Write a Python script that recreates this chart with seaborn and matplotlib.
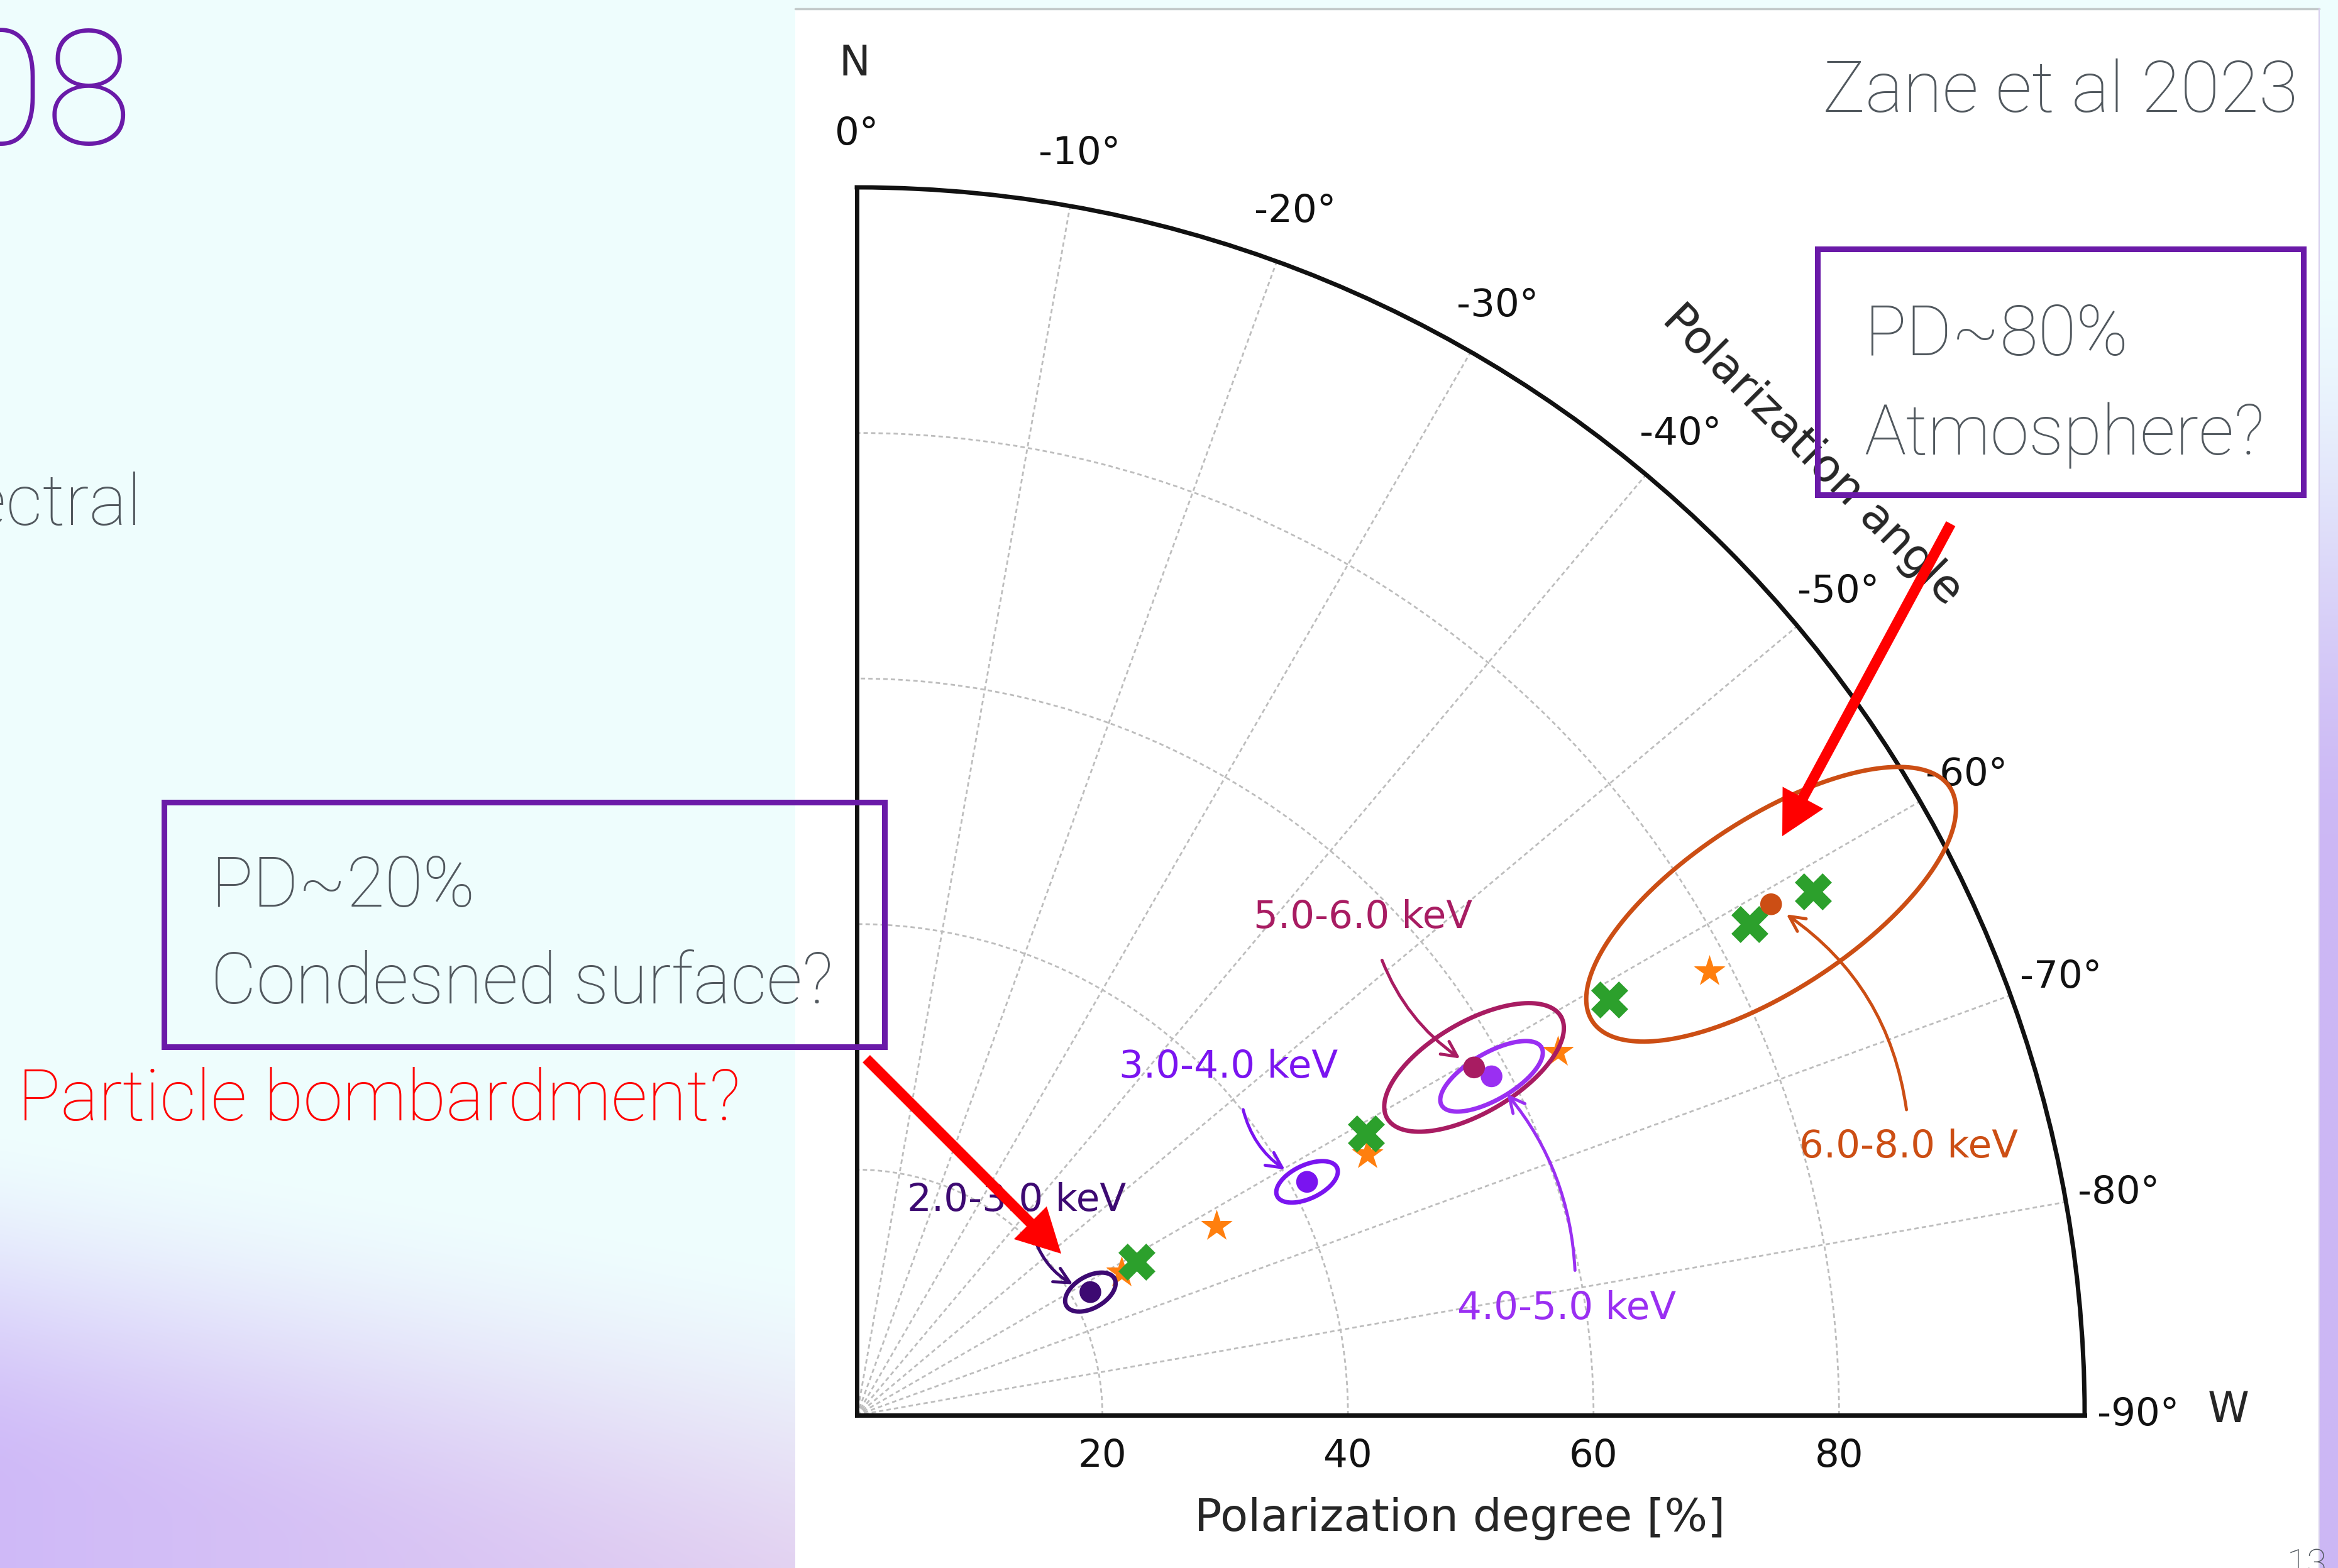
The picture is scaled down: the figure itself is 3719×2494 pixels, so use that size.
import numpy as np
import matplotlib
matplotlib.use("Agg")
import matplotlib.pyplot as plt
from matplotlib.patches import FancyArrowPatch, Rectangle
import seaborn as sns

# ---------------- data ----------------
bands = ["2.0-3.0 keV", "3.0-4.0 keV", "4.0-5.0 keV", "5.0-6.0 keV", "6.0-8.0 keV"]
band_colors = ["#3d0a72", "#7a14f0", "#9a2ff2", "#a81c62", "#cc4e14"]
band_pd = [21.5, 41.3, 58.6, 57.7, 85.3]          # polarization degree [%]
band_pa = [-62.2, -62.6, -61.9, -60.6, -60.8]     # polarization angle [deg]
# confidence contours: semi-axes in PD units, tilt from the radial direction [deg]
contour_major = [2.25, 2.7, 4.7, 8.2, 17.4]
contour_minor = [1.3, 1.36, 1.9, 3.7, 7.0]
contour_tilt = [2, -2, 2, 1, 4]

# model predictions
model_x_pd = [26.0, 47.4, 70.0, 83.0, 88.8]
model_x_pa = [-61.3, -61.05, -61.1, -61.2, -61.3]
model_star_pd = [24.5, 33.1, 46.7, 64.3, 78.3]
model_star_pa = [-61.7, -62.25, -62.9, -62.6, -62.5]

angle_ticks = [0, -10, -20, -30, -40, -50, -60, -70, -80, -90]
angle_labels = ["0°", "-10°", "-20°", "-30°", "-40°", "-50°", "-60°", "-70°", "-80°", "-90°"]
pd_ticks = [20, 40, 60, 80]
pd_tick_labels = ["20", "40", "60", "80"]

# label placement for each band (axes fraction), arrow curvature, arrow anchors
label_pos = [(0.130, 0.175), (0.3026, 0.2832), (0.5781, 0.0870), (0.4122, 0.4055), (0.8566, 0.2186)]
label_rad = [0.3, 0.3, 0.2, 0.2, 0.25]
label_relpos = [(0.56, 0.0), (0.55, 0.0), (0.54, 1.0), (0.55, 0.0), (0.5, 1.0)]
label_shrink_a = [24, 25, 20, 27, 19]
label_shrink_b = [22, 29, 27, 19, 21]

# ---------------- figure ----------------
sns.set_style("white")
plt.rcParams["font.family"] = ["DejaVu Sans"]

W, H = 3719, 2494
DPI = 100
fig = plt.figure(figsize=(W / DPI, H / DPI), dpi=DPI)


def fxy(x, y):
    return (x / W, 1 - y / H)


def smoothstep(z):
    z = np.clip(z, 0, 1)
    return z * z * (3 - 2 * z)


# slide background: pale cyan fading into lavender at the bottom
bg = fig.add_axes([0, 0, 1, 1], zorder=-10)
bg.set_axis_off()
ny, nx = 300, 450
yy, xx = np.mgrid[0:ny, 0:nx]
yf = yy / (ny - 1)
xf = np.clip(xx / (nx - 1) * W / 1265.0, 0, 1)
cyan = np.array([0.937, 0.996, 0.996])
lav_l = np.array([0.812, 0.728, 0.972])
lav_r = np.array([0.884, 0.808, 0.942])
start = 0.71 + 0.08 * xf
span = 0.24 + 0.02 * xf
t = smoothstep((yf - start) / span)
lav = lav_l[None, None, :] * (1 - xf[..., None]) + lav_r[None, None, :] * xf[..., None]
img = cyan[None, None, :] * (1 - t[..., None]) + lav * t[..., None]
bg.imshow(img, extent=[0, W, H, 0], aspect="auto", interpolation="bilinear")
# right-hand lavender strip
strip = np.linspace(0, 1, 200)[:, None]
strip_img = smoothstep((strip - 0.15) / 0.4)[..., None] * (np.array([0.80, 0.72, 0.96]) - cyan) + cyan
bg.imshow(strip_img, extent=[3689, W, H, 0], aspect="auto", interpolation="bilinear")
bg.set_xlim(0, W)
bg.set_ylim(H, 0)
# white figure panel
bg.add_patch(Rectangle((1265, 13), 3689 - 1265, H - 13, facecolor="white", edgecolor="none"))
bg.plot([1265, 3689], [14, 14], color="#c3caca", lw=2.5)
bg.plot([3689, 3689], [14, H], color="#d8d0ee", lw=1.5)

# ---------------- polar chart ----------------
ax = fig.add_axes([1363 / W, (H - 2251) / H, 1953 / W, 1953 / H], projection="polar")
ax.set_theta_zero_location("N")
ax.set_theta_direction(1)
ax.set_thetamin(-90)
ax.set_thetamax(0)
ax.set_rlim(0, 100)
ax.set_facecolor("white")

# confidence contours
tt = np.linspace(0, 2 * np.pi, 400)
for pd0, pa0, a, b, tilt, c in zip(band_pd, band_pa, contour_major, contour_minor,
                                   contour_tilt, band_colors):
    phi = np.deg2rad(tilt)
    s = a * np.cos(tt)
    q = b * np.sin(tt)
    u = s * np.cos(phi) - q * np.sin(phi)
    v = s * np.sin(phi) + q * np.cos(phi)
    rr = np.hypot(pd0 + u, v)
    th = np.deg2rad(pa0) + np.arctan2(v, pd0 + u)
    ax.plot(th, rr, color=c, lw=5, clip_on=False, zorder=4)

# model points
sns.scatterplot(x=np.deg2rad(model_star_pa), y=model_star_pd, marker="*", s=1450,
                color="#ff7f0e", linewidth=0, ax=ax, zorder=3, legend=False)
sns.scatterplot(x=np.deg2rad(model_x_pa), y=model_x_pd, marker="X", s=1800,
                color="#2ca02c", linewidth=0, ax=ax, zorder=3.5, legend=False)
# measured points
sns.scatterplot(x=np.deg2rad(band_pa), y=band_pd, hue=bands, palette=band_colors,
                marker="o", s=620, linewidth=0, ax=ax, zorder=5, legend=False)
ax.set_xlabel("")
ax.set_ylabel("")

# axes decoration
ax.set_rlim(0, 100)
ax.set_thetagrids(angle_ticks, labels=angle_labels)
ax.set_rgrids(pd_ticks, labels=pd_tick_labels)
ax.tick_params(axis="x", pad=54, length=0, labelsize=44, labelcolor="#111111")
ax.tick_params(axis="y", pad=26, length=0, labelsize=44, labelcolor="#111111")
ax.grid(True, color="#bdbdbd", lw=2, linestyle=(0, (2.5, 1.8)))
for sp in ax.spines.values():
    sp.set_color("#111111")
    sp.set_linewidth(5)

# band labels with curved pointers
for name, c, pd0, pa0, pos, rad, rp, sa, sb in zip(bands, band_colors, band_pd, band_pa,
                                                  label_pos, label_rad, label_relpos,
                                                  label_shrink_a, label_shrink_b):
    ax.annotate(name, xy=(np.deg2rad(pa0), pd0), xycoords="data",
                xytext=pos, textcoords="axes fraction",
                ha="center", va="center", fontsize=44, color=c, zorder=6,
                arrowprops=dict(arrowstyle="->", color=c, lw=3.5,
                                connectionstyle=f"arc3,rad={rad}", relpos=rp,
                                shrinkA=sa, shrinkB=sb))

ax.text(-0.002, 1.101, "N", transform=ax.transAxes, ha="center", va="center", fontsize=48)
ax.text(1.117, 0.004, "W", transform=ax.transAxes, ha="center", va="center", fontsize=48)
ax.text(0.778, 0.782, "Polarization angle", transform=ax.transAxes, ha="center",
        va="center", rotation=-45, rotation_mode="anchor", fontsize=52)
ax.text(0.491, -0.084, "Polarization degree [%]", transform=ax.transAxes, ha="center",
        va="center", fontsize=52)

# ---------------- slide annotations ----------------
slide_font = dict(family=["Roboto", "DejaVu Sans"], weight="light")
grey = "#51585e"
purple = "#6a1aa8"

fig.text(*fxy(212, 230), "J1708", ha="right", va="baseline", fontsize=184,
         color=purple, **slide_font)
fig.text(*fxy(226, 835), "spectral", ha="right", va="baseline", fontsize=82,
         color=grey, **slide_font)
fig.text(*fxy(3655, 178), "Zane et al 2023", ha="right", va="baseline", fontsize=82,
         color=grey, **slide_font)

fig.text(*fxy(335, 1442), "PD~20%", ha="left", va="baseline", fontsize=80,
         color=grey, **slide_font)
fig.text(*fxy(335, 1596), "Condesned surface?", ha="left", va="baseline", fontsize=81,
         color=grey, **slide_font)
fig.text(*fxy(28, 1782), "Particle bombardment?", ha="left", va="baseline", fontsize=82,
         color="#ff0000", **slide_font)
fig.text(*fxy(2965, 565), "PD~80%", ha="left", va="baseline", fontsize=80,
         color=grey, **slide_font)
fig.text(*fxy(2965, 723), "Atmosphere?", ha="left", va="baseline", fontsize=80,
         color=grey, **slide_font)
fig.text(*fxy(3702, 2505), "13", ha="right", va="baseline", fontsize=42,
         color=grey, **slide_font)

for (x0, y0, x1, y1) in [(261, 1276, 1407, 1665), (2891, 396, 3664, 787)]:
    fig.add_artist(Rectangle(fxy(x0, y1), (x1 - x0) / W, (y1 - y0) / H,
                             transform=fig.transFigure, facecolor="none",
                             edgecolor=purple, lw=6.5, zorder=10))

for (x0, y0, x1, y1) in [(1378, 1684, 1688, 1994), (3103, 833, 2835, 1330)]:
    fig.add_artist(FancyArrowPatch(fxy(x0, y0), fxy(x1, y1), transform=fig.transFigure,
                                   arrowstyle="simple,head_length=0.5,head_width=0.53,tail_width=0.12",
                                   mutation_scale=100, color="#ff0000", lw=0,
                                   shrinkA=0, shrinkB=0, zorder=11))

fig.savefig("out.png", dpi=DPI)
